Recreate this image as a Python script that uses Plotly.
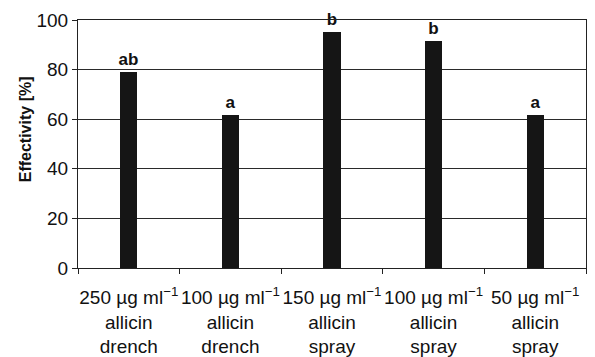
import plotly.graph_objects as go

# Treatments (concentration, agent, application) and their effectivity
doses = ["250 µg ml<sup>−1</sup>", "100 µg ml<sup>−1</sup>", "150 µg ml<sup>−1</sup>",
         "100 µg ml<sup>−1</sup>", "50 µg ml<sup>−1</sup>"]
agents = ["allicin", "allicin", "allicin", "allicin", "allicin"]
methods = ["drench", "drench", "spray", "spray", "spray"]
effectivity = [79.0, 61.7, 95.2, 91.5, 61.7]
letters = ["ab", "a", "b", "b", "a"]

categories = [f"{d}<br>{a}<br>{m}" for d, a, m in zip(doses, agents, methods)]

FONT = "Liberation Sans, Arial, sans-serif"

fig = go.Figure(
    go.Bar(
        x=categories,
        y=effectivity,
        width=0.17,
        marker=dict(color="#151515", line=dict(width=0)),
        text=[f"<b>{t}</b>" for t in letters],
        textposition="outside",
        constraintext="none",
        textfont=dict(family=FONT, size=17, color="#111111"),
        cliponaxis=False,
    )
)

fig.update_layout(
    width=595,
    height=357,
    margin=dict(l=78, r=9, t=20, b=89),
    paper_bgcolor="white",
    plot_bgcolor="white",
    showlegend=False,
    font=dict(family=FONT, size=19, color="#111111"),
    bargap=0,
)

fig.update_xaxes(
    type="category",
    automargin=False,
    tickson="boundaries",
    ticks="outside",
    ticklen=5,
    tickcolor="#222222",
    showline=True,
    linecolor="#222222",
    linewidth=1,
    mirror=True,
    showgrid=False,
    tickangle=0,
    ticklabelstandoff=12,
    tickfont=dict(family=FONT, size=19, color="#111111"),
)

fig.update_yaxes(
    range=[0, 100],
    automargin=False,
    tickvals=[0, 20, 40, 60, 80, 100],
    ticks="outside",
    ticklen=5,
    tickcolor="#222222",
    showline=True,
    linecolor="#222222",
    linewidth=1,
    mirror=True,
    showgrid=True,
    gridcolor="#2a2a2a",
    gridwidth=1,
    zeroline=False,
    tickfont=dict(family=FONT, size=19, color="#111111"),
)

# Rotated bold axis title
fig.add_annotation(
    text="<b>Effectivity [%]</b>",
    xref="paper", yref="paper",
    x=-0.104, y=0.56,
    xanchor="center", yanchor="middle",
    textangle=-90,
    showarrow=False,
    font=dict(family=FONT, size=16, color="#111111"),
)

fig.write_html("out.html")
